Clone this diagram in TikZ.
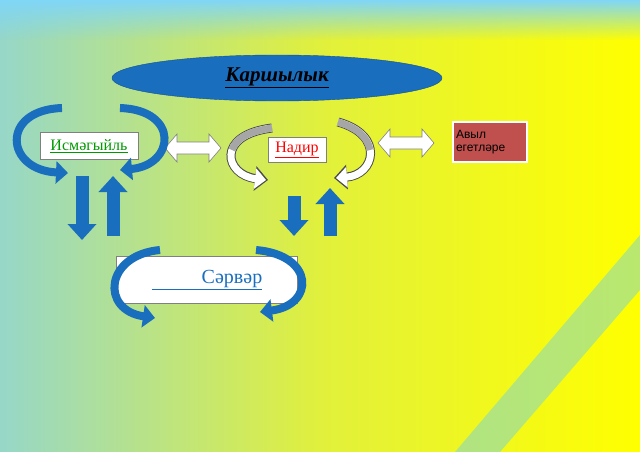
\documentclass[tikz,border=0pt]{standalone}
\usepackage{fontspec}
\setmainfont{Liberation Serif}
\newfontfamily\sansfont{Liberation Sans}
\usetikzlibrary{shapes.geometric,arrows.meta,fadings}
\definecolor{arrowblue}{RGB}{26,110,190}
\definecolor{darkblue}{RGB}{20,80,150}
\definecolor{boxred}{RGB}{192,80,77}
\tikzset{
    textbox/.style = {draw = gray, fill = white, inner sep = 2pt},
    turnblue/.style = {line width = 8pt, arrowblue, -{Triangle[length = 12pt, width = 22pt]}},
    turnedge/.style = {line width = 9pt, gray!60!black, -{Triangle[length = 13pt, width = 24pt]}},
    turnwhite/.style = {line width = 7pt, white, -{Triangle[length = 11pt, width = 20pt]}},
    updown/.style = {line width = 13pt, arrowblue, -{Triangle[length = 16pt, width = 28pt]}},
    twoway/.style = {draw = gray, fill = white, line width = 0.6pt}
}
\begin{document}
\begin{tikzpicture}[x = 1pt, y = -1pt]
\useasboundingbox (0,0) rectangle (640,452);
% background
\shade[left color = {rgb,255:red,150;green,215;blue,200}, right color = yellow, middle color = {rgb,255:red,225;green,240;blue,60}] (0,0) rectangle (640,452);
\fill[cyan!50, path fading = south] (0,0) rectangle (640,40);
\fill[cyan!60, opacity = 0.45] (640,235) -- (640,290) -- (500,452) -- (455,452) -- cycle;
% title
\node[ellipse, draw = darkblue, fill = arrowblue, minimum width = 330pt, minimum height = 46pt]
    (title) at (277,78) {\fontsize{21}{24}\selectfont\bfseries\itshape\underline{Каршылык}};
% boxes
\node[textbox, minimum width = 98pt, minimum height = 27pt] (ism) at (89,146)
    {\fontsize{16}{18}\selectfont\color{green!60!black}\underline{Исмәгыйль}};
\node[textbox, minimum width = 58pt, minimum height = 25pt] (nad) at (297,150)
    {\fontsize{16}{18}\selectfont\color{red}\underline{Надир}};
\node[draw = white, fill = boxred, text width = 68pt, minimum height = 40pt, align = left,
    inner sep = 3pt, font = \sansfont\fontsize{12}{13}\selectfont, line width = 1.5pt] (avyl) at (490,142)
    {Авыл\\ егетләре};
\node[textbox, minimum width = 181pt, minimum height = 47pt] (sar) at (207,280)
    {\fontsize{20}{22}\selectfont\color{arrowblue}\underline{\hspace{2.5em}Сәрвәр}};
% two-way arrows
\coordinate (lr1) at (193,148);
\coordinate (lr2) at (406,143);
\foreach \c in {lr1, lr2}
    \filldraw[twoway, shift = {(\c)}] (-28,0) -- (-16,-14) -- (-16,-6) -- (16,-6) -- (16,-14)
        -- (28,0) -- (16,14) -- (16,6) -- (-16,6) -- (-16,14) -- cycle;
% up and down arrows
\coordinate (d1a) at (82,176); \coordinate (d1b) at (82,240);
\coordinate (u1a) at (113,236); \coordinate (u1b) at (113,176);
\coordinate (d2a) at (294,196); \coordinate (d2b) at (294,236);
\coordinate (u2a) at (330,236); \coordinate (u2b) at (330,188);
\draw[updown] (d1a) -- (d1b);
\draw[updown] (u1a) -- (u1b);
\draw[updown] (d2a) -- (d2b);
\draw[updown] (u2a) -- (u2b);
% turning arrows around Исмәгыйль
\draw[turnblue] (62,108) .. controls (0,110) and (5,170) .. (68,173);
\draw[turnblue] (120,108) .. controls (180,110) and (175,165) .. (120,170);
% turning arrows around Надир
\draw[turnedge] (272,128) .. controls (215,135) and (225,175) .. (268,180);
\draw[turnwhite] (272,128) .. controls (215,135) and (225,175) .. (266,180);
\draw[gray!70, line width = 7pt] (272,128) .. controls (250,131) and (236,138) .. (232,150);
\draw[turnedge] (338,122) .. controls (385,135) and (375,175) .. (334,178);
\draw[turnwhite] (338,122) .. controls (385,135) and (375,175) .. (336,178);
\draw[gray!70, line width = 7pt] (338,122) .. controls (358,128) and (368,138) .. (370,150);
% turning arrows around Сәрвәр
\draw[turnblue] (160,250) .. controls (105,255) and (100,310) .. (155,318);
\draw[turnblue] (256,250) .. controls (315,255) and (315,305) .. (260,312);
\end{tikzpicture}
\end{document}
